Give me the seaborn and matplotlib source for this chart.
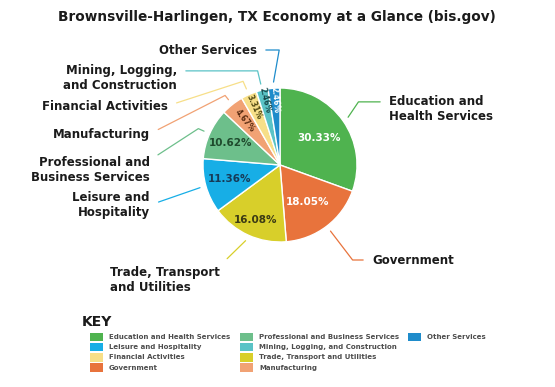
import numpy as np
import matplotlib
matplotlib.use("Agg")
import matplotlib.pyplot as plt
import seaborn as sns
from matplotlib.patches import Patch

# данные (проценты занятости по секторам, по часовой стрелке от верха)
sectors = ["Education and Health Services", "Government", "Trade, Transport and Utilities",
           "Leisure and Hospitality", "Professional and Business Services", "Manufacturing",
           "Financial Activities", "Mining, Logging, and Construction", "Other Services"]
shares = [30.33, 18.05, 16.08, 11.36, 10.62, 4.67, 3.31, 2.46, 2.46]
colors = ["#4fb34f", "#e8733c", "#d8cf2a", "#17aee6", "#6dbf8b",
          "#f1a274", "#f7df88", "#5ac3c6", "#1f8ccb"]
pct_colors = ["white", "white", "#3b3a14", "#163a57", "#1f4a2d",
              "#5a2c12", "#4f4712", "#17494b", "white"]
# подписи снаружи (с переносами строк)
outer_labels = ["Education and\nHealth Services", "Government", "Trade, Transport\nand Utilities",
                "Leisure and\nHospitality", "Professional and\nBusiness Services", "Manufacturing",
                "Financial Activities", "Mining, Logging,\nand Construction", "Other Services"]
# порядок легенды по колонкам
key_cols = [["Education and Health Services", "Leisure and Hospitality",
             "Financial Activities", "Government"],
            ["Professional and Business Services", "Mining, Logging, and Construction",
             "Trade, Transport and Utilities", "Manufacturing"],
            ["Other Services"]]

sns.set_style("white")
plt.rcParams['font.family'] = ['DejaVu Sans']

W, H = 555, 387
fig = plt.figure(figsize=(W / 100, H / 100), dpi=100)
ax = fig.add_axes([0, 0, 1, 1])

def fpos(x, y):
    return x / W, 1 - y / H

total = sum(shares)
wedges, texts, autotexts = ax.pie(
    shares, colors=colors, startangle=90, counterclock=False,
    autopct=lambda p: f"{p * total / 100:.2f}%",
    wedgeprops=dict(edgecolor="white", linewidth=1))

# центр круга (280,165) px, радиус 77 px
cx, cy, R = 280, 165, 77
ax.set_xlim(-cx / R, (W - cx) / R)
ax.set_ylim(-(H - cy) / R, cy / R)
ax.axis("off")

pct_r = [0.62, 0.6, 0.78, 0.68, 0.7, 0.73, 0.82, 0.86, 0.85]
for i, (w, t) in enumerate(zip(wedges, autotexts)):
    mid_deg = ((w.theta1 + w.theta2) / 2) % 360
    mid = np.deg2rad(mid_deg)
    t.set_position((pct_r[i] * np.cos(mid), pct_r[i] * np.sin(mid)))
    t.set_color(pct_colors[i])
    t.set_fontweight("bold")
    if shares[i] < 5:
        t.set_rotation(mid_deg - 180 if 90 < mid_deg < 270 else mid_deg)
        t.set_rotation_mode("anchor")
        t.set_fontsize(5.5)
    else:
        t.set_fontsize(7.5)

# выноски: (x, y, ha, relpos, стиль соединения)
callouts = [
    (389, 109, "left", (0, 0.75), "angle,angleA=0,angleB=56,rad=0"),
    (372, 260, "left", (0, 0.5), None),
    (110, 280, "left", (1, 1.0), "arc3,rad=0"),
    (150, 205, "right", (1, 0.5), "arc3,rad=0"),
    (150, 170, "right", (1, 0.85), "angle,angleA=33,angleB=None,rad=0"),
    (150, 135, "right", (1, 0.6), "angle,angleA=27,angleB=None,rad=0"),
    (168, 107, "right", (1, 0.6), "angle,angleA=18,angleB=None,rad=0"),
    (177, 78, "right", (1, 0.75), "angle,angleA=0,angleB=None,rad=0"),
    (257, 50, "right", (1, 0.5), "angle,angleA=0,angleB=80,rad=0"),
]
for i, (x, y, ha, rp, conn) in enumerate(callouts):
    w = wedges[i]
    mid_deg = (w.theta1 + w.theta2) / 2
    mid = np.deg2rad(mid_deg)
    rr = 1.08
    if conn is None:
        conn = f"angle,angleA=0,angleB={mid_deg:.1f},rad=0"
    conn = conn.replace("None", f"{mid_deg:.1f}")
    ax.annotate(outer_labels[i], xy=(rr * np.cos(mid), rr * np.sin(mid)), xycoords="data",
                xytext=fpos(x, y), textcoords="figure fraction",
                ha=ha, va="center", multialignment=ha, fontsize=8.5,
                fontweight="bold", color="#1b1b1b", linespacing=1.25,
                annotation_clip=False,
                arrowprops=dict(arrowstyle="-", color=colors[i], lw=0.9,
                                shrinkA=4, shrinkB=0, relpos=rp,
                                connectionstyle=conn))

fig.text(*fpos(277, 17), "Brownsville-Harlingen, TX Economy at a Glance (bis.gov)",
         ha="center", va="center", fontsize=9.8, fontweight="bold", color="#1b1b1b")

fig.text(*fpos(82, 322), "KEY", ha="left", va="center", fontsize=10,
         fontweight="bold", color="#1b1b1b")

col_x = [90, 240, 408]
for cx_px, names in zip(col_x, key_cols):
    handles = [Patch(facecolor=colors[sectors.index(n)], edgecolor="none") for n in names]
    leg = fig.legend(handles, names, loc="upper left", bbox_to_anchor=fpos(cx_px, 332.5),
                     frameon=False, fontsize=5, borderpad=0, borderaxespad=0,
                     handlelength=1.87, handleheight=1.54, handletextpad=0.86,
                     labelspacing=0.22)
    for txt in leg.get_texts():
        txt.set_color("#4d4d4d")
        txt.set_fontweight("bold")

fig.savefig("out.png", dpi=100)
